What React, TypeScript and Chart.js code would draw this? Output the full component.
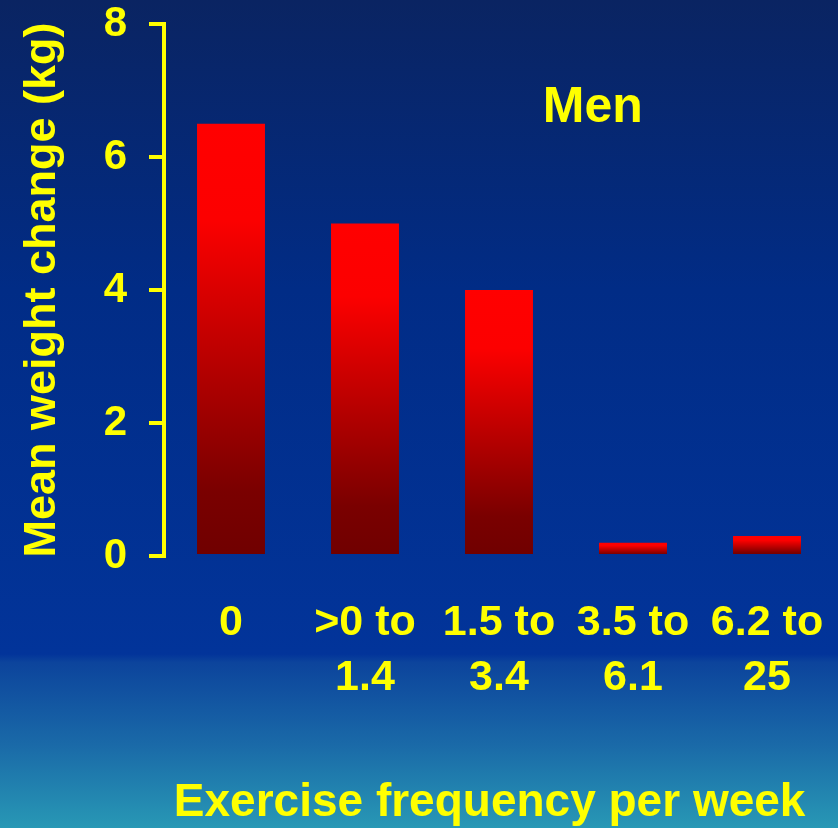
import React, { useEffect, useRef } from "react";
import { Chart, registerables } from "chart.js";

Chart.register(...registerables);

// Exercise frequency groups (per week) and mean weight change for men
const categories: string[][] = [
  ["0"],
  [">0 to", "1.4"],
  ["1.5 to", "3.4"],
  ["3.5 to", "6.1"],
  ["6.2 to", "25"],
];
const weightChange: number[] = [6.5, 5.0, 4.0, 0.2, 0.3];
const yMin = 0;
const yMax = 8;
const yStep = 2;
const groupLabel = "Men";
const xTitle = "Exercise frequency per week";
const yTitle = "Mean weight change (kg)";

const YELLOW = "#ffff00";
const FONT = "'Liberation Sans', Arial, Helvetica, sans-serif";

// Writes the group name inside the plot and the x-axis caption below the
// category labels, both placed through the chart's scales
const annotationPlugin = {
  id: "annotations",
  afterDraw(chart: any) {
    const { ctx, scales } = chart;
    ctx.save();
    ctx.fillStyle = YELLOW;
    ctx.textAlign = "center";
    ctx.textBaseline = "middle";

    ctx.font = `bold 50px ${FONT}`;
    ctx.fillText(groupLabel, scales.x.getPixelForValue(2.7), scales.y.getPixelForValue(6.74));

    ctx.font = `bold 46px ${FONT}`;
    ctx.fillText(xTitle, scales.x.getPixelForValue(1.93), scales.x.bottom - 25);
    ctx.restore();
  },
};

export default function App() {
  const canvasRef = useRef<HTMLCanvasElement | null>(null);

  useEffect(() => {
    document.body.style.margin = "0";
    const canvas = canvasRef.current;
    if (!canvas) return;

    const chart = new Chart(canvas, {
      type: "bar",
      data: {
        labels: categories,
        datasets: [
          {
            data: weightChange,
            borderWidth: 0,
            barPercentage: 0.507,
            categoryPercentage: 1,
            backgroundColor: (c: any) => {
              const ch = c.chart;
              if (!ch.chartArea || c.type !== "data") return "#ff0000";
              const yScale = ch.scales.y;
              const v = weightChange[c.dataIndex];
              const top = yScale.getPixelForValue(v);
              const bottom = yScale.getPixelForValue(0);
              const g = ch.ctx.createLinearGradient(0, top, 0, bottom);
              g.addColorStop(0, "#ff0000");
              g.addColorStop(0.22, "#fc0000");
              g.addColorStop(0.85, "#7a0000");
              g.addColorStop(1, "#700000");
              return g;
            },
          },
        ],
      },
      options: {
        animation: false,
        responsive: false,
        maintainAspectRatio: false,
        layout: { padding: { top: 24, right: 4, left: 0, bottom: 0 } },
        plugins: {
          legend: { display: false },
          tooltip: { enabled: false },
        },
        scales: {
          x: {
            grid: { display: false, drawTicks: false },
            border: { display: false },
            ticks: {
              color: YELLOW,
              padding: 39.5,
              maxRotation: 0,
              autoSkip: false,
              font: { family: FONT, size: 43, weight: "bold", lineHeight: 1.28 },
            },
            afterFit(scale: any) {
              scale.height = 272;
              scale.paddingLeft = 0;
              scale.paddingRight = 0;
            },
          },
          y: {
            min: yMin,
            max: yMax,
            border: { display: true, color: YELLOW, width: 4 },
            grid: {
              display: true,
              drawOnChartArea: false,
              drawTicks: true,
              tickLength: 15,
              color: YELLOW,
              lineWidth: 4,
            },
            ticks: {
              stepSize: yStep,
              color: YELLOW,
              padding: 22,
              font: { family: FONT, size: 42, weight: "bold", lineHeight: 1 },
            },
            title: {
              display: true,
              text: yTitle,
              color: YELLOW,
              font: { family: FONT, size: 45, weight: "bold", lineHeight: 1.2 },
              padding: { top: 15.5, bottom: 0 },
            },
            afterFit(scale: any) {
              scale.width = 164;
              scale.paddingTop = 0;
              scale.paddingBottom = 0;
            },
          },
        },
      },
      plugins: [annotationPlugin],
    });

    return () => chart.destroy();
  }, []);

  return (
    <div
      style={{
        width: 838,
        height: 828,
        background:
          "linear-gradient(to bottom, #0a2462 0%, #012c86 35%, #02349a 79%, #0c449c 80%, #1a6aa8 90%, #2898b5 100%)",
      }}
    >
      <canvas ref={canvasRef} width={838} height={828} style={{ display: "block" }} />
    </div>
  );
}
